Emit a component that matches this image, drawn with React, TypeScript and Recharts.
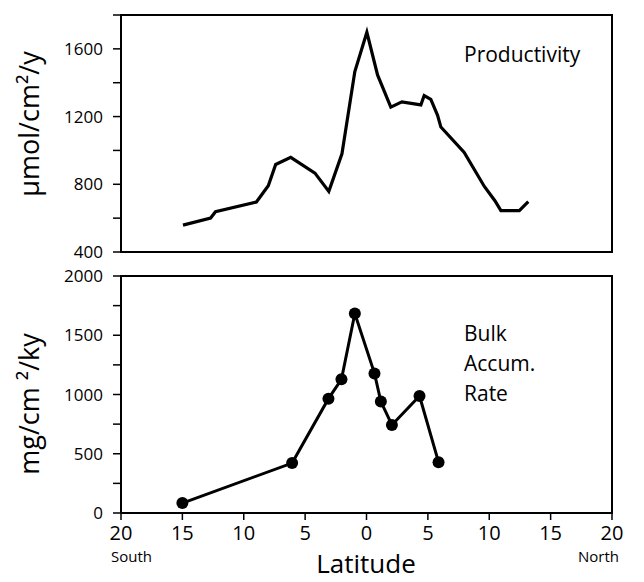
import React from 'react';
import { LineChart, Line, XAxis, YAxis, ReferenceArea } from 'recharts';

// latitude: negative = south, positive = north
const prodLat = [-14.95, -12.7, -12.3, -8.97, -8.0, -7.4, -6.17, -4.2, -3.07, -2.0, -0.95, 0.03, 0.9, 1.98, 2.88, 4.43, 4.7, 5.24, 5.79, 6.06, 7.96, 9.6, 10.46, 10.95, 12.45, 13.18];
const prodValues = [559, 601, 638, 695, 791, 917, 959, 866, 758, 980, 1466, 1698, 1446, 1256, 1287, 1269, 1324, 1301, 1207, 1138, 988, 787, 703, 644, 644, 697];

const bulkLat = [-15.0, -6.06, -3.1, -2.04, -0.95, 0.65, 1.17, 2.07, 4.32, 5.87];
const bulkValues = [84, 421, 965, 1128, 1683, 1178, 940, 743, 987, 429];

const latTicks = [-20, -15, -10, -5, 0, 5, 10, 15, 20];
const prodTicks = [400, 600, 800, 1000, 1200, 1400, 1600, 1800];
const bulkTicks = [0, 250, 500, 750, 1000, 1250, 1500, 1750, 2000];

const prodData = prodLat.map((lat, i) => ({ lat, value: prodValues[i] }));
const bulkData = bulkLat.map((lat, i) => ({ lat, value: bulkValues[i] }));

const FONT = '"Open Sans", "DejaVu Sans", sans-serif';

const YTick = ({ x, y, payload, step }: any) => {
  if (payload.value % step !== 0) return null;
  return (
    <text x={x - 8} y={y} dy={6} textAnchor="end" fontSize={17} fill="#000" fontFamily={FONT}>
      {payload.value}
    </text>
  );
};

const XTick = ({ x, y, payload }: any) => (
  <text x={x} y={y} dy={18} textAnchor="middle" fontSize={20} fill="#000" fontFamily={FONT}>
    {Math.abs(payload.value)}
  </text>
);

const textStyle: React.CSSProperties = { position: 'absolute', fontFamily: FONT, color: '#000', whiteSpace: 'nowrap', lineHeight: 1 };

export default function App() {
  return (
    <div style={{ position: 'absolute', left: 0, top: 0, width: 644, height: 582, background: '#fff', fontFamily: FONT }}>
      <div style={{ position: 'absolute', left: 0, top: 260 }}>
        <LineChart width={644} height={322} data={bulkData} margin={{ top: 16, right: 32, bottom: 39, left: 0 }}>
          <ReferenceArea x1={-20} x2={20} y1={0} y2={2000} fill="none" fillOpacity={0} stroke="#000" strokeWidth={2} ifOverflow="visible" />
          <XAxis
            dataKey="lat"
            type="number"
            domain={[-20, 20]}
            ticks={latTicks}
            tick={<XTick />}
            height={30}
            axisLine={{ stroke: '#000', strokeWidth: 2 }}
            tickLine={{ stroke: '#000', strokeWidth: 1.5 }}
            tickSize={7}
            interval={0}
          />
          <YAxis
            type="number"
            domain={[0, 2000]}
            ticks={bulkTicks}
            width={121}
            tick={<YTick step={500} />}
            axisLine={{ stroke: '#000', strokeWidth: 2 }}
            tickLine={{ stroke: '#000', strokeWidth: 1.5 }}
            tickSize={8}
            interval={0}
          />
          <Line dataKey="value" stroke="#000" strokeWidth={3} dot={{ r: 6, fill: '#000', stroke: '#000', strokeWidth: 0 }} isAnimationActive={false} />
        </LineChart>
      </div>
      <div style={{ position: 'absolute', left: 0, top: 0 }}>
        <LineChart width={644} height={268} data={prodData} margin={{ top: 15, right: 32, bottom: 8, left: 0 }}>
          <ReferenceArea x1={-20} x2={20} y1={400} y2={1800} fill="none" fillOpacity={0} stroke="#000" strokeWidth={2} ifOverflow="visible" />
          <XAxis
            dataKey="lat"
            type="number"
            domain={[-20, 20]}
            ticks={latTicks}
            tick={false}
            height={8}
            axisLine={{ stroke: '#000', strokeWidth: 2 }}
            tickLine={{ stroke: '#000', strokeWidth: 1.5 }}
            tickSize={7}
          />
          <YAxis
            type="number"
            domain={[400, 1800]}
            ticks={prodTicks}
            width={121}
            tick={<YTick step={400} />}
            axisLine={{ stroke: '#000', strokeWidth: 2 }}
            tickLine={{ stroke: '#000', strokeWidth: 1.5 }}
            tickSize={8}
            interval={0}
          />
          <Line dataKey="value" stroke="#000" strokeWidth={3.2} dot={false} isAnimationActive={false} />
        </LineChart>
      </div>

      <div style={{ ...textStyle, left: 464, top: 44, fontSize: 21 }}>Productivity</div>
      <div style={{ ...textStyle, left: 464, top: 318, fontSize: 21, lineHeight: '30px', whiteSpace: 'normal' }}>
        Bulk<br />Accum.<br />Rate
      </div>

      <div style={{ ...textStyle, left: 111, top: 549, fontSize: 15 }}>South</div>
      <div style={{ ...textStyle, left: 578, top: 549, fontSize: 15 }}>North</div>
      <div style={{ ...textStyle, left: 366, top: 550, fontSize: 26, lineHeight: '26px', transform: 'translateX(-50%)' }}>Latitude</div>

      <div style={{ ...textStyle, left: 28, top: 124, fontSize: 27, transform: 'translate(-50%, -50%) rotate(-90deg)' }}>μmol/cm²/y</div>
      <div style={{ ...textStyle, left: 28, top: 404, fontSize: 27, transform: 'translate(-50%, -50%) rotate(-90deg)' }}>mg/cm ²/ky</div>
    </div>
  );
}
